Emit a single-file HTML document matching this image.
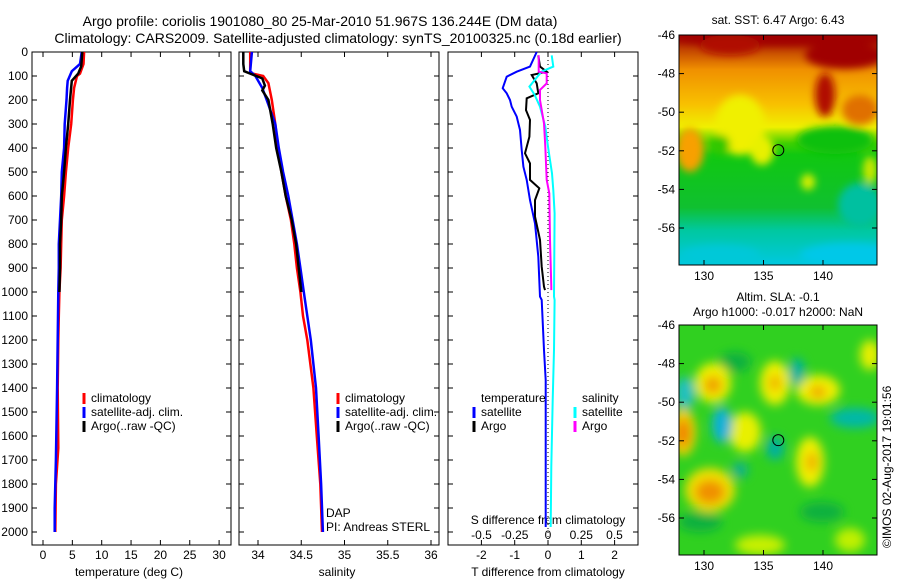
<!DOCTYPE html>
<html><head><meta charset="utf-8">
<style>
body{margin:0;background:#fff;}
svg{display:block;font-family:"Liberation Sans",sans-serif;font-size:12px;}
</style></head>
<body>
<svg id="fig" width="900" height="580" viewBox="0 0 900 580">
<defs>
<filter id="blur1" x="-50%" y="-50%" width="200%" height="200%"><feGaussianBlur stdDeviation="4"/></filter>
<filter id="blur2" x="-50%" y="-50%" width="200%" height="200%"><feGaussianBlur stdDeviation="5"/></filter>
<clipPath id="clipM1"><rect x="679" y="35" width="198" height="230"/></clipPath>
<clipPath id="clipM2"><rect x="679" y="325" width="198" height="230"/></clipPath>
<linearGradient id="sstGrad" x1="0" y1="0" x2="0" y2="1">
<stop offset="0" stop-color="#a00000"/><stop offset="0.06" stop-color="#c04000"/>
<stop offset="0.15" stop-color="#f09000"/><stop offset="0.3" stop-color="#f8c000"/>
<stop offset="0.4" stop-color="#f0f000"/><stop offset="0.47" stop-color="#40d000"/>
<stop offset="0.52" stop-color="#10c810"/><stop offset="0.75" stop-color="#10c030"/>
<stop offset="0.85" stop-color="#00c8a0"/><stop offset="1" stop-color="#00c8e0"/></linearGradient>
</defs>
<text x="320" y="26" text-anchor="middle" font-size="14">Argo profile: coriolis 1901080_80 25-Mar-2010 51.967S 136.244E (DM data)</text>
<text x="338" y="43" text-anchor="middle" font-size="14">Climatology: CARS2009. Satellite-adjusted climatology: synTS_20100325.nc (0.18d earlier)</text>
<g id="g1"></g>
<g id="g2"></g>
<g id="g3"></g>
<g id="m1"></g>
<g id="m2"></g>
<text x="0" y="0" transform="translate(891,548) rotate(-90)" font-size="12">©IMOS 02-Aug-2017 19:01:56</text>
</svg>
<script>
// ---- data ----
const depthTicks = [0,100,200,300,400,500,600,700,800,900,1000,1100,1200,1300,1400,1500,1600,1700,1800,1900,2000];
const tTicks = [0,5,10,15,20,25,30];
const sTicks = [34,34.5,35,35.5,36];
const dtTicks = [-2,-1,0,1,2];
const dsTicks = [-0.5,-0.25,0,0.25,0.5];
const dsTickLabels = ["-0.5","-0.25","0","0.25","0.5"];

const tClimDepth = [0,50,90,100,150,200,300,400,500,600,700,800,900,1000,1100,1200,1400,1650,1800,2000];
const tClim      = [7.0,6.9,6.3,5.8,5.3,5.1,4.8,4.3,3.9,3.6,3.2,3.1,3.0,2.8,2.7,2.6,2.5,2.6,2.2,2.1];
const tSatDepth = [0,50,80,120,150,200,300,400,500,600,700,800,900,1000,1200,1400,1700,1900,2000];
const tSat      = [6.6,6.3,4.9,4.2,4.1,4.0,3.7,3.6,3.2,3.1,2.9,2.7,2.7,2.6,2.5,2.4,2.2,2.0,2.0];
const tArgoDepth = [0,60,90,120,200,300,400,500,600,700,800,900,1000];
const tArgo      = [6.7,6.5,6.0,4.9,4.6,4.3,3.9,3.6,3.2,3.1,2.9,2.9,2.8];

const sClimDepth = [0,88,100,130,200,300,400,500,600,700,800,900,1000,1100,1200,1400,1600,1800,2000];
const sClim      = [33.91,33.91,34.06,34.12,34.16,34.2,34.23,34.27,34.32,34.38,34.42,34.45,34.49,34.52,34.57,34.64,34.68,34.72,34.74];
const sSatDepth = [0,80,100,150,200,250,300,400,500,600,700,800,900,1000,1100,1200,1400,1600,1800,2000];
const sSat      = [33.93,33.91,33.97,34.05,34.1,34.15,34.2,34.24,34.29,34.35,34.4,34.45,34.49,34.53,34.57,34.61,34.67,34.7,34.73,34.75];
const sArgoDepth = [0,50,80,90,110,140,160,200,300,400,500,600,700,800,900,1000];
const sArgo      = [33.83,33.83,33.84,33.91,34.05,34.08,34.05,34.12,34.17,34.21,34.27,34.32,34.39,34.44,34.47,34.5];

const dtSatDepth = [0,61,82,103,151,172,200,228,269,325,408,478,533,617,714,853,1019,1033,1242,1367,1979];
const dtSat      = [-0.34,-0.54,-0.94,-1.24,-1.36,-1.24,-1.14,-1.09,-0.94,-0.84,-0.79,-0.74,-0.64,-0.54,-0.39,-0.29,-0.24,-0.19,-0.12,-0.07,-0.07];
const dtArgoDepth = [14,61,82,96,131,172,193,242,283,353,422,464,533,568,617,686,783,894,978,992];
const dtArgo      = [-0.29,-0.24,-0.04,-0.49,-0.34,-0.29,-0.64,-0.66,-0.54,-0.56,-0.69,-0.54,-0.54,-0.26,-0.39,-0.39,-0.24,-0.19,-0.12,-0.09];
const dsSatDepth = [14,61,82,144,179,228,311,394,506,575,672,1019,1033,1242,1450,1728,1979];
const dsSat      = [0.028,0.04,-0.05,-0.14,-0.1,-0.06,-0.02,0.0,0.03,0.04,0.05,0.045,0.05,0.045,0.035,0.025,0.02];
const dsArgoDepth = [14,82,89,131,158,200,297,394,533,589,783,978,992];
const dsArgo      = [-0.07,-0.07,-0.01,-0.01,-0.06,-0.06,-0.03,-0.02,-0.01,0.01,0.015,0.025,0.025];

const latTicks = [-46,-48,-50,-52,-54,-56];
const lonTicks = [130,135,140];
const argoLat = -51.967, argoLon = 136.244;

// ---- helpers ----
const NS='http://www.w3.org/2000/svg';
function mk(parent,tag,attrs,text){const e=document.createElementNS(NS,tag);for(const k in attrs)e.setAttribute(k,attrs[k]);if(text!==undefined)e.textContent=text;parent.appendChild(e);return e;}
const Y = d => 52 + d*0.24;
const pTop=52,pBot=545;
const xT = v => 43 + v*5.87;
const xS = v => 258 + (v-34)*86.5;
const xDT = v => 548 + v*33.3;
const xDS = v => 548 + v*133;

function frame(g,x0,x1,name){
  const r=mk(g,'rect',{x:x0,y:pTop,width:x1-x0,height:pBot-pTop,fill:'none',stroke:'#000','stroke-width':1});
  
  
  depthTicks.forEach(d=>{
    mk(g,'line',{x1:x0,x2:x0+5,y1:Y(d),y2:Y(d),stroke:'#000'});
    mk(g,'line',{x1:x1,x2:x1-5,y1:Y(d),y2:Y(d),stroke:'#000'});
  });
}
function xticks(g,vals,fx,labels,ly,name){
  vals.forEach((v,i)=>{
    const x=fx(v);
    mk(g,'line',{x1:x,x2:x,y1:pTop,y2:pTop+5,stroke:'#000'});
    mk(g,'line',{x1:x,x2:x,y1:pBot,y2:pBot-5,stroke:'#000'});
    const t=mk(g,'text',{x:x,y:ly,'text-anchor':'middle'},labels?labels[i]:String(v));
    
    
  });
}
function line(g,xs,ds,fx,color,name,w){
  const pts=xs.map((v,i)=>fx(v).toFixed(1)+','+Y(ds[i]).toFixed(1)).join(' ');
  const p=mk(g,'polyline',{points:pts,fill:'none',stroke:color,'stroke-width':w||2.5,'stroke-linejoin':'miter'});
  
  
}
function legend(g,x,y,color,label,name){
  mk(g,'rect',{x:x-1.5,y:y-9,width:3,height:11,fill:color});
  const t=mk(g,'text',{x:x+7,y:y},label);
  
  
}

// panel 1
const g1=document.getElementById('g1');
frame(g1,32,231,'temperature');
depthTicks.forEach(d=>{
  const t=mk(g1,'text',{x:28,y:Y(d)+4,'text-anchor':'end'},String(d));
  
  
});
xticks(g1,tTicks,xT,null,559,'temperature');
mk(g1,'text',{x:129,y:576,'text-anchor':'middle',},'temperature (deg C)');
line(g1,tClim,tClimDepth,xT,'#ff0000','temperature-climatology-line');
line(g1,tSat,tSatDepth,xT,'#0000ff','temperature-satellite-line');
line(g1,tArgo,tArgoDepth,xT,'#000000','temperature-argo-line');
legend(g1,84,402,'#f00','climatology','legend-climatology');
legend(g1,84,416,'#00f','satellite-adj. clim.','legend-satellite');
legend(g1,84,430,'#000','Argo(..raw -QC)','legend-argo');

// panel 2
const g2=document.getElementById('g2');
frame(g2,239,439,'salinity');
xticks(g2,sTicks,xS,null,559,'salinity');
mk(g2,'text',{x:337,y:576,'text-anchor':'middle',},'salinity');
line(g2,sClim,sClimDepth,xS,'#ff0000','salinity-climatology-line');
line(g2,sSat,sSatDepth,xS,'#0000ff','salinity-satellite-line');
line(g2,sArgo,sArgoDepth,xS,'#000000','salinity-argo-line');
legend(g2,338,402,'#f00','climatology','legend-climatology-2');
legend(g2,338,416,'#00f','satellite-adj. clim.','legend-satellite-2');
legend(g2,338,430,'#000','Argo(..raw -QC)','legend-argo-2');
mk(g2,'text',{x:326,y:517,},'DAP');
mk(g2,'text',{x:326,y:531,},'PI: Andreas STERL');

// panel 3
const g3=document.getElementById('g3');
frame(g3,448,638,'difference');
xticks(g3,dtTicks,xDT,null,559,'t-difference');
dsTicks.forEach((v,i)=>{
  const t=mk(g3,'text',{x:xDS(v),y:539,'text-anchor':'middle'},dsTickLabels[i]);
  
  
});
mk(g3,'text',{x:548,y:524,'text-anchor':'middle',},'S difference from climatology');
mk(g3,'text',{x:548,y:576,'text-anchor':'middle',},'T difference from climatology');
mk(g3,'line',{x1:xDT(0),x2:xDT(0),y1:Y(0),y2:pBot,stroke:'#000','stroke-dasharray':'1,3',});
line(g3,dtSat,dtSatDepth,xDT,'#0000ff','t-diff-satellite-line',2);
line(g3,dtArgo,dtArgoDepth,xDT,'#000000','t-diff-argo-line',2);
line(g3,dsSat,dsSatDepth,xDS,'#00ffff','s-diff-satellite-line',2);
line(g3,dsArgo,dsArgoDepth,xDS,'#ff00ff','s-diff-argo-line',2);
mk(g3,'text',{x:481,y:402,},'temperature');
mk(g3,'text',{x:582,y:402,},'salinity');
legend(g3,474,416,'#00f','satellite','legend-t-satellite');
legend(g3,474,430,'#000','Argo','legend-t-argo');
legend(g3,575,416,'#0ff','satellite','legend-s-satellite');
legend(g3,575,430,'#f0f','Argo','legend-s-argo');

// maps
const mx = lon => 679 + (lon-127.9)*11.9;
function mapAxes(g,y0){
  const my = lat => y0 + (-46-lat)*19.3;
  latTicks.forEach(l=>{
    const y=my(l);
    mk(g,'line',{x1:679,x2:684,y1:y,y2:y,stroke:'#000'});
    mk(g,'line',{x1:877,x2:872,y1:y,y2:y,stroke:'#000'});
    const t=mk(g,'text',{x:675,y:y+4,'text-anchor':'end'},String(l));
    
    
  });
  lonTicks.forEach(l=>{
    const x=mx(l);
    mk(g,'line',{x1:x,x2:x,y1:y0,y2:y0+5,stroke:'#000'});
    mk(g,'line',{x1:x,x2:x,y1:y0+230,y2:y0+225,stroke:'#000'});
    const t=mk(g,'text',{x:x,y:y0+245,'text-anchor':'middle'},String(l));
    
    
  });
  mk(g,'rect',{x:679,y:y0,width:198,height:230,fill:'none',stroke:'#000'});
  const c=mk(g,'circle',{cx:mx(argoLon),cy:my(argoLat),r:5.5,fill:'none',stroke:'#000'});
  
  
}
const m1=document.getElementById('m1');
mk(m1,'text',{x:778,y:24,'text-anchor':'middle',},'sat. SST: 6.47 Argo: 6.43');
const c1=mk(m1,'g',{'clip-path':'url(#clipM1)'});
mk(c1,'rect',{x:679,y:35,width:198,height:230,fill:'url(#sstGrad)'});
const b1=mk(c1,'g',{filter:'url(#blur1)'});
[[780,38,110,8,'#a00000'],[845,55,40,14,'#a00000'],[730,45,30,10,'#b01000'],[825,95,10,22,'#b01000'],[860,110,18,15,'#e07000'],
 [690,150,14,22,'#f8a000'],[740,125,25,30,'#f0f000'],[720,145,10,10,'#30c800'],[762,150,12,15,'#e8f000'],
 [835,140,38,14,'#10c010'],[808,182,7,8,'#d8f000'],[870,170,7,14,'#c8e800'],[860,205,22,22,'#00c0a0'],[850,255,50,12,'#00c8e8'],[720,255,40,10,'#00c8d8']]
 .forEach(b=>mk(b1,'ellipse',{cx:b[0],cy:b[1],rx:b[2],ry:b[3],fill:b[4]}));
mapAxes(m1,35);

const m2=document.getElementById('m2');
mk(m2,'text',{x:778,y:301,'text-anchor':'middle',},'Altim. SLA: -0.1');
mk(m2,'text',{x:778,y:316,'text-anchor':'middle',},'Argo h1000: -0.017 h2000: NaN');
const c2=mk(m2,'g',{'clip-path':'url(#clipM2)'});
mk(c2,'rect',{x:679,y:325,width:198,height:230,fill:'#30d020'});
const b2=mk(c2,'g',{filter:'url(#blur2)'});
[[735,362,16,10,'#10b040'],[700,522,22,10,'#10b040'],[822,512,22,10,'#10b040'],[760,545,25,10,'#c8f000'],[850,540,15,12,'#c0f000'],
 [713,383,18,20,'#f0f000'],[775,383,15,22,'#f0f000'],[818,390,22,15,'#f0f000'],[683,432,13,24,'#f0d000'],[745,432,16,20,'#e8f000'],[810,462,14,25,'#f0f000'],[710,490,25,22,'#f0e000'],[870,355,10,15,'#e8f000'],
 [713,385,9,9,'#f0a000'],[775,383,6,8,'#f0b000'],[818,392,8,6,'#f0a000'],[683,433,7,14,'#f08000'],[812,462,6,10,'#f0b000'],[710,492,15,12,'#f09000'],
 [685,393,10,16,'#20c0c0'],[722,425,10,18,'#10b0d8'],[775,448,9,12,'#00b0a0'],[797,372,8,14,'#00b0a0'],[855,418,25,10,'#00b8a8'],[740,470,8,8,'#10b090']]
 .forEach(b=>mk(b2,'ellipse',{cx:b[0],cy:b[1],rx:b[2],ry:b[3],fill:b[4]}));
mapAxes(m2,325);
</script>
</body></html>
